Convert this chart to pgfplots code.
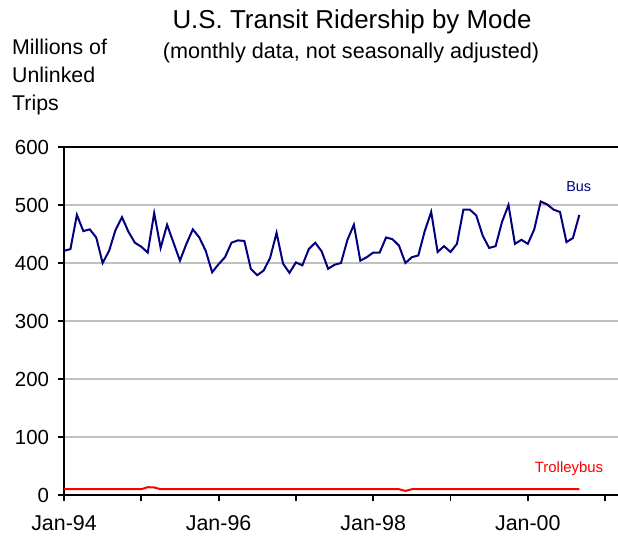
\documentclass[border=0pt]{standalone}
\usepackage{pgfplots}
\pgfplotsset{compat=1.18}
\usepackage{fontspec}
\setmainfont{Liberation Sans}
\definecolor{busblue}{HTML}{000080}
\definecolor{trolred}{HTML}{FF0000}
\definecolor{gridgray}{HTML}{C0C0C0}

% month index from Jan-94 (0) to Sep-00 (80)
\pgfplotstableread{
m bus trolley
0 421 10
1 424 10
2 483 10
3 455 10
4 458 10
5 444 10
6 400 10
7 421 10
8 457 10
9 479 10
10 454 10
11 435 10
12 428 10
13 418 13.5
14 486 13
15 426 10
16 466 10
17 435 10
18 404 10
19 433 10
20 458 10
21 444 10
22 421 10
23 384 10
24 398 10
25 410 10
26 435 10
27 439 10
28 438 10
29 390 10
30 379 10
31 387 10
32 409 10
33 452 10
34 399 10
35 383 10
36 401 10
37 396 10
38 424 10
39 435 10
40 420 10
41 390 10
42 397 10
43 400 10
44 440 10
45 466 10
46 404 10
47 410 10
48 418 10
49 418 10
50 444 10
51 441 10
52 430 10
53 400 7
54 410 10
55 413 10
56 455 10
57 488 10
58 419 10
59 429 10
60 419 10
61 433 10
62 492 10
63 492 10
64 482 10
65 447 10
66 426 10
67 429 10
68 471 10
69 500 10
70 433 10
71 440 10
72 433 10
73 458 10
74 506 10
75 501 10
76 492 10
77 488 10
78 436 10
79 443 10
80 483 10
}\ridership

\begin{document}
\begin{tikzpicture}
\path[use as bounding box] (0,0) rectangle (618bp,537bp);

\begin{axis}[
  at={(64bp,42bp)}, anchor=south west,
  scale only axis, width=554bp, height=348bp,
  xmin=0, xmax=86, ymin=0, ymax=600,
  axis x line=bottom, axis y line=left,
  axis line style={-, black, line width=2bp},
  xtick={0,12,...,84},
  xticklabels={Jan-94,,Jan-96,,Jan-98,,Jan-00,},
  ytick={0,100,...,500},
  extra y ticks={600}, extra y tick labels={600},
  extra y tick style={grid style={black, line width=2bp}},
  tick align=outside,
  major tick length=5.5bp,
  tick style={black, line width=1.8bp},
  ymajorgrids, grid style={gridgray, line width=1.2bp},
  /pgf/number format/assume math mode=true,
  xticklabel style={font=\fontsize{21.5}{25}\selectfont, yshift=-12bp},
  yticklabel style={font=\fontsize{20.5}{24}\selectfont, xshift=-6bp},
  clip=false,
]
\addplot[busblue, line width=2bp] table[x=m, y=bus] {\ridership};
\addplot[trolred, line width=2bp] table[x=m, y=trolley] {\ridership};
\node[busblue, font=\fontsize{14.5}{17}\selectfont] at (axis cs:79.9,531) {Bus};
\node[trolred, font=\fontsize{15}{18}\selectfont] at (axis cs:78.4,46) {Trolleybus};
\end{axis}

\node[anchor=base, font=\fontsize{26}{30}\selectfont] at (352bp,508bp) {U.S. Transit Ridership by Mode};
\node[anchor=base, font=\fontsize{21.7}{26}\selectfont] at (351bp,478.5bp) {(monthly data, not seasonally adjusted)};
\node[anchor=base west, inner sep=0pt, font=\fontsize{21.4}{26}\selectfont] at (12bp,482bp) {Millions of};
\node[anchor=base west, inner sep=0pt, font=\fontsize{21.4}{26}\selectfont] at (12bp,454bp) {Unlinked};
\node[anchor=base west, inner sep=0pt, font=\fontsize{21.4}{26}\selectfont] at (12bp,426bp) {Trips};
\end{tikzpicture}
\end{document}
